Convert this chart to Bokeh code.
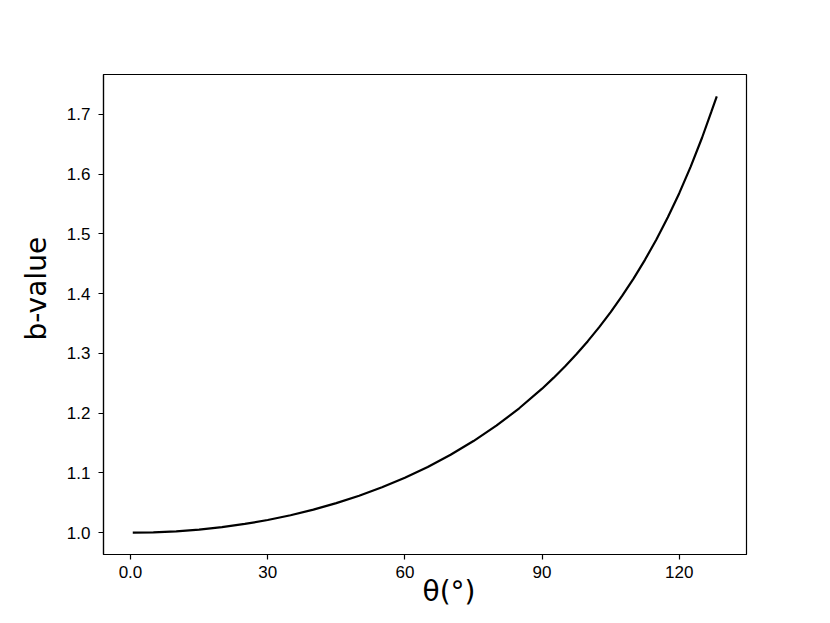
from bokeh.plotting import figure
from bokeh.models import Range1d, FixedTicker, Title, ColumnDataSource
from bokeh.embed import file_html
from bokeh.resources import INLINE

# Data
theta = [0.5, 5, 10, 15, 20, 25, 30, 35, 40, 45, 50, 55, 60, 65, 70, 75, 80,
         85, 90, 92.5, 95, 97.5, 100, 102.5, 105, 107.5, 110, 112.5, 115,
         117.5, 120, 122.5, 125, 127, 128.2]
b_value = [1.0000, 1.0006, 1.0023, 1.0052, 1.0093, 1.0146, 1.0212, 1.0292,
           1.0385, 1.0494, 1.0618, 1.0759, 1.0920, 1.1100, 1.1304, 1.1533,
           1.1791, 1.2081, 1.2409, 1.2589, 1.2780, 1.2985, 1.3204, 1.3438,
           1.3689, 1.3960, 1.4251, 1.4565, 1.4905, 1.5276, 1.5680, 1.6123,
           1.6611, 1.7038, 1.7300]

x_ticks = [0, 30, 60, 90, 120]
x_tick_labels = {0: "0.0", 30: "30", 60: "60", 90: "90", 120: "120"}
y_ticks = [1.0, 1.1, 1.2, 1.3, 1.4, 1.5, 1.6, 1.7]

TICK_FONT = "Liberation Sans"
LABEL_FONT = "DejaVu Sans"

W, H = 822, 615
p = figure(width=W, height=H, output_backend="svg", toolbar_location=None,
           x_range=Range1d(-5.9, 134.7), y_range=Range1d(0.9635, 1.7665),
           min_border_left=103, min_border_right=76, min_border_top=74,
           min_border_bottom=61)
p.background_fill_color = "white"
p.border_fill_color = "white"
p.grid.visible = False
p.outline_line_color = "black"
p.outline_line_width = 1.2
p.outline_line_alpha = 1

src = ColumnDataSource(dict(x=theta, y=b_value))
p.line("x", "y", source=src, line_color="black", line_width=2.2)

for ax in (p.xaxis[0], p.yaxis[0]):
    ax.axis_line_color = "black"
    ax.axis_line_width = 1.2
    ax.major_tick_line_color = "black"
    ax.major_tick_line_width = 1.2
    ax.major_tick_out = 5
    ax.major_tick_in = 0
    ax.minor_tick_line_color = None
    ax.major_label_text_font = TICK_FONT
    ax.major_label_text_font_size = "17px"
    ax.major_label_text_color = "black"

p.xaxis.major_label_standoff = 6
p.yaxis.major_label_standoff = 8

p.xaxis.ticker = FixedTicker(ticks=x_ticks)
p.xaxis.major_label_overrides = x_tick_labels
p.yaxis.ticker = FixedTicker(ticks=y_ticks)
p.yaxis.major_label_overrides = {v: f"{v:.1f}" for v in y_ticks}

ytitle = Title(text="b-value", align="left", offset=214, standoff=21,
               text_font=LABEL_FONT, text_font_size="28px", text_font_style="normal",
               text_color="black")
xtitle = Title(text="θ(°)", align="left", offset=319, standoff=-16,
               text_font=LABEL_FONT, text_font_size="28px", text_font_style="normal",
               text_color="black")
p.add_layout(ytitle, "left")
p.add_layout(xtitle, "below")

open("out.html", "w").write(file_html(p, INLINE))
